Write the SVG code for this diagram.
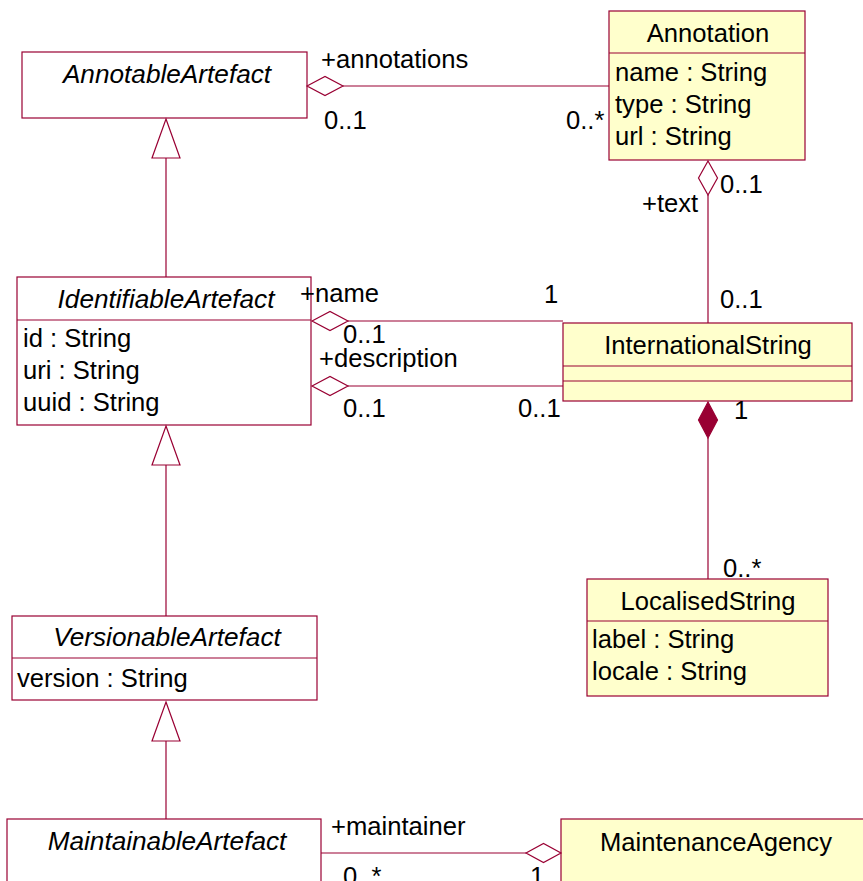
<svg xmlns="http://www.w3.org/2000/svg" width="863" height="881" viewBox="0 0 863 881">
  <style>
    .box { fill: #ffffff; stroke: #990033; stroke-width: 1.2; }
    .cls { fill: #ffffcc; stroke: #990033; stroke-width: 1.2; }
    .div { stroke: #990033; stroke-width: 1.2; }
    .edge { fill: none; stroke: #990033; stroke-width: 1.2; }
    .agg { fill: #ffffff; stroke: #990033; stroke-width: 1.2; }
    .comp { fill: #990033; stroke: #990033; stroke-width: 1.2; }
    .gen { fill: #ffffff; stroke: #990033; stroke-width: 1.2; }
    text { font-family: "Liberation Sans", Arial, sans-serif; font-size: 25.6px; fill: #000000; }
    .title { text-anchor: middle; }
    .abstract { font-style: italic; font-size: 26.2px; text-anchor: middle; }
  </style>

  <g id="AnnotableArtefact">
    <rect class="box" x="22" y="52" width="285" height="66"/>
    <text class="abstract" x="167" y="83">AnnotableArtefact</text>
  </g>

  <g id="IdentifiableArtefact">
    <rect class="box" x="17" y="277" width="294" height="148"/>
    <line class="div" x1="17" y1="320" x2="311" y2="320"/>
    <text class="abstract" x="166" y="308">IdentifiableArtefact</text>
    <text x="23" y="347">id : String</text>
    <text x="23" y="379">uri : String</text>
    <text x="23" y="411">uuid : String</text>
  </g>

  <g id="VersionableArtefact">
    <rect class="box" x="12" y="616" width="305" height="84"/>
    <line class="div" x1="12" y1="658" x2="317" y2="658"/>
    <text class="abstract" x="167" y="646">VersionableArtefact</text>
    <text x="17" y="687">version : String</text>
  </g>

  <g id="MaintainableArtefact">
    <rect class="box" x="7" y="819" width="314" height="100"/>
    <text class="abstract" x="167" y="850">MaintainableArtefact</text>
  </g>

  <g id="Annotation">
    <rect class="cls" x="609" y="11" width="196" height="149"/>
    <line class="div" x1="609" y1="53" x2="805" y2="53"/>
    <text class="title" x="708" y="42">Annotation</text>
    <text x="615" y="81">name : String</text>
    <text x="615" y="113">type : String</text>
    <text x="615" y="145">url : String</text>
  </g>

  <g id="InternationalString">
    <rect class="cls" x="563" y="323" width="289" height="78"/>
    <line class="div" x1="563" y1="366" x2="852" y2="366"/>
    <line class="div" x1="563" y1="381" x2="852" y2="381"/>
    <text class="title" x="708" y="354">InternationalString</text>
  </g>

  <g id="LocalisedString">
    <rect class="cls" x="587" y="579" width="241" height="117"/>
    <line class="div" x1="587" y1="621" x2="828" y2="621"/>
    <text class="title" x="708" y="610">LocalisedString</text>
    <text x="592" y="648">label : String</text>
    <text x="592" y="680">locale : String</text>
  </g>

  <g id="MaintenanceAgency">
    <rect class="cls" x="561" y="819" width="320" height="100"/>
    <text class="title" x="716" y="851">MaintenanceAgency</text>
  </g>

  <!-- connectors, drawn over the class boxes so role names stay on top -->
  <g id="connectors">
    <!-- generalizations -->
    <line class="edge" x1="166" y1="158" x2="166" y2="277"/>
    <polygon class="gen" points="166,119 180,158 152,158"/>
    <line class="edge" x1="166" y1="465" x2="166" y2="616"/>
    <polygon class="gen" points="166,426 180,465 152,465"/>
    <line class="edge" x1="166" y1="741" x2="166" y2="819"/>
    <polygon class="gen" points="166,702 180,741 152,741"/>

    <!-- annotations aggregation -->
    <line class="edge" x1="343" y1="86" x2="609" y2="86"/>
    <polygon class="agg" points="307,86 325,76.5 343,86 325,95.5"/>

    <!-- name aggregation -->
    <line class="edge" x1="348" y1="321" x2="563" y2="321"/>
    <polygon class="agg" points="312,321 330,311.5 348,321 330,330.5"/>

    <!-- description aggregation -->
    <line class="edge" x1="348" y1="386" x2="563" y2="386"/>
    <polygon class="agg" points="312,386 330,376.5 348,386 330,395.5"/>

    <!-- text aggregation -->
    <line class="edge" x1="708" y1="195" x2="708" y2="323"/>
    <polygon class="agg" points="708,161 717.5,178 708,195 698.5,178"/>

    <!-- localised strings composition -->
    <line class="edge" x1="708" y1="438" x2="708" y2="579"/>
    <polygon class="comp" points="708,402 717.5,420 708,438 698.5,420"/>

    <!-- maintainer aggregation -->
    <line class="edge" x1="321" y1="853" x2="526" y2="853"/>
    <polygon class="agg" points="526,853 543.5,843.5 561,853 543.5,862.5"/>

    <!-- role names and multiplicities -->
    <text x="321" y="68">+annotations</text>
    <text x="324" y="129">0..1</text>
    <text x="566" y="129">0..*</text>
    <text x="720" y="193">0..1</text>
    <text x="642" y="212">+text</text>
    <text x="720" y="308">0..1</text>
    <text x="300" y="302">+name</text>
    <text x="544" y="303">1</text>
    <text x="343" y="343">0..1</text>
    <text x="319" y="367">+description</text>
    <text x="343" y="417">0..1</text>
    <text x="518" y="417">0..1</text>
    <text x="734" y="419">1</text>
    <text x="723" y="577">0..*</text>
    <text x="331" y="835">+maintainer</text>
    <text x="343" y="885">0..*</text>
    <text x="530" y="885">1</text>
  </g>
</svg>
